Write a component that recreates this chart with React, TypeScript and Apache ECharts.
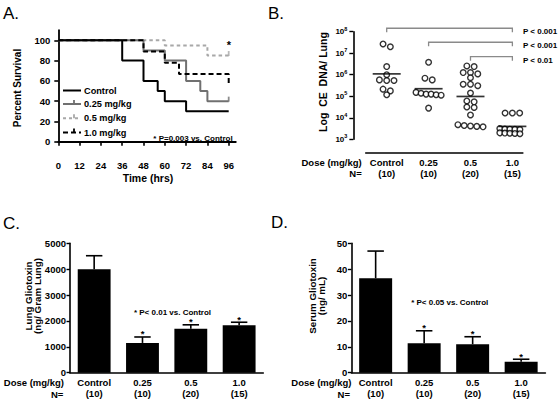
import React, { useEffect, useRef } from 'react';
import * as echarts from 'echarts';

const FONT = '"Liberation Sans", Arial, Helvetica, sans-serif';

// ---------- Panel A: survival ----------
const survivalXTicks = [0, 12, 24, 36, 48, 60, 72, 84, 96];
const survivalYTicks = [0, 20, 40, 60, 80, 100];
const survivalNames = ['Control', '0.25 mg/kg', '0.5 mg/kg', '1.0 mg/kg'];
const controlSurv = [[0, 100], [36, 80], [48, 60], [56, 50], [60, 40], [72, 30], [96, 30]];
const dose025Surv = [[0, 100], [48, 90], [60, 80], [72, 60], [80, 50], [84, 40], [96, 40]];
const dose05Surv = [[0, 100], [60, 95], [84, 85], [96, 85]];
const dose10Surv = [[0, 100], [48, 88.9], [60, 77.8], [68, 66.7], [96, 55.6]];
const censored025 = [[96, 40]];
const censored05 = [[96, 85]];

// ---------- Panel B: lung CE DNA (log10) ----------
const doseCats = ['Control', '0.25', '0.5', '1.0'];
const doseN = ['(10)', '(10)', '(20)', '(15)'];
const logDnaControl = [7.43, 7.3, 6.38, 6.0, 5.76, 5.73, 5.73, 5.33, 5.25, 5.07];
const logDna025 = [6.58, 5.84, 5.76, 5.18, 5.14, 5.1, 5.1, 5.07, 5.05, 4.45];
const logDna05 = [6.41, 6.38, 6.1, 6.1, 6.04, 5.86, 5.56, 5.56, 5.49, 5.15, 4.78, 4.74, 4.5, 4.48, 4.13, 3.68, 3.64, 3.62, 3.6, 3.58];
const logDna10 = [4.22, 4.22, 4.22, 3.5, 3.48, 3.47, 3.46, 3.45, 3.44, 3.3, 3.29, 3.28, 3.27, 3.26, 3.25];
const logDnaMean = [6.04, 5.35, 4.99, 3.6];
const bracketFrom = [1, 2, 3];
const bracketTo = [4, 4, 4];
const bracketLevel = [8.16, 7.51, 6.84];
const bracketText = ['P < 0.001', 'P < 0.001', 'P < 0.01'];

// ---------- Panel C: lung gliotoxin ----------
const lungMean = [4000, 1150, 1700, 1830];
const lungSem = [520, 230, 150, 120];

// ---------- Panel D: serum gliotoxin ----------
const serumMean = [36.5, 11.4, 11.0, 4.25];
const serumSem = [10.5, 4.8, 2.9, 0.95];
const sigMarks = ['', '*', '*', '*'];

// simple row-based beeswarm (in data units)
function swarm(values: number[], cat: number): number[][] {
  const sorted = [...values].sort((a, b) => b - a);
  const rows: number[][] = [];
  let cur: number[] = [];
  for (const v of sorted) {
    if (cur.length && cur[0] - v > 0.15) {
      rows.push(cur);
      cur = [];
    }
    cur.push(v);
  }
  if (cur.length) rows.push(cur);
  const pts: number[][] = [];
  rows.forEach((row) => {
    const n = row.length;
    const span = Math.min((n - 1) * 0.174, 0.6);
    const step = n > 1 ? span / (n - 1) : 0;
    row.forEach((v, i) => pts.push([cat + (i - (n - 1) / 2) * step, v]));
  });
  return pts;
}

function txt(text: string, x: number, y: number, size: number, o: any = {}) {
  const align = o.align || 'center';
  return {
    type: 'text',
    x,
    y,
    rotation: o.rotation || 0,
    silent: true,
    z: 100,
    style: {
      text,
      fill: '#000',
      fontSize: size,
      fontWeight: o.weight || 'bold',
      fontFamily: FONT,
      align,
      textAlign: align,
      verticalAlign: 'middle',
      textVerticalAlign: 'middle',
      lineHeight: o.lineHeight,
    },
  };
}

const tickLabel = { fontSize: 9.5, fontWeight: 'bold', color: '#000', fontFamily: FONT };
const axisLineStyle = (w: number) => ({ show: true, lineStyle: { color: '#000', width: w } });

function errorBarSeries(means: number[], sems: number[], idx: number) {
  return {
    type: 'custom',
    xAxisIndex: idx,
    yAxisIndex: idx,
    clip: false,
    z: 5,
    data: means.map((m, i) => [i, m, sems[i]]),
    encode: { x: 0, y: 1 },
    renderItem: (params: any, api: any) => {
      const i = api.value(0);
      const m = api.value(1);
      const e = api.value(2);
      const base = api.coord([i, m]);
      const top = api.coord([i, m + e]);
      const bw = api.size([1, 0])[0] * 0.68;
      const hw = bw / 4;
      const children: any[] = [
        { type: 'line', shape: { x1: top[0], y1: base[1], x2: top[0], y2: top[1] }, style: { stroke: '#000', lineWidth: 1.6 } },
        { type: 'line', shape: { x1: top[0] - hw, y1: top[1], x2: top[0] + hw, y2: top[1] }, style: { stroke: '#000', lineWidth: 1.6 } },
      ];
      const mark = sigMarks[params.dataIndex];
      if (mark) {
        children.push({
          type: 'text',
          x: top[0],
          y: top[1] - 3,
          style: { text: mark, fill: '#000', fontSize: 9.5, fontWeight: 'bold', fontFamily: FONT, align: 'center', verticalAlign: 'middle' },
        });
      }
      return { type: 'group', children };
    },
  };
}

function buildOption(): any {
  const catLabels = doseCats.map((c, i) => c + '\n' + doseN[i]);
  const dots = [
    ...swarm(logDnaControl, 1),
    ...swarm(logDna025, 2),
    ...swarm(logDna05, 3),
    ...swarm(logDna10, 4),
  ];

  const legendY = [90.5, 104, 118.3, 132.5];
  const legendStyles = [
    { stroke: '#000', dash: null, tick: false },
    { stroke: '#707070', dash: null, tick: true },
    { stroke: '#a8a8a8', dash: [3, 3], tick: true },
    { stroke: '#000', dash: [5, 3], tick: true },
  ];
  const legendGraphics: any[] = [];
  survivalNames.forEach((name, i) => {
    const s = legendStyles[i];
    const y = legendY[i];
    legendGraphics.push({
      type: 'line',
      silent: true,
      shape: { x1: 63, y1: y, x2: 81, y2: y },
      style: { stroke: s.stroke, lineWidth: 2, lineDash: s.dash || undefined },
    });
    if (s.tick) {
      legendGraphics.push({
        type: 'line',
        silent: true,
        shape: { x1: 74, y1: y - 4, x2: 74, y2: y },
        style: { stroke: s.stroke, lineWidth: 1.8 },
      });
    }
    legendGraphics.push(txt(name, 84, y, 9.2, { align: 'left' }));
  });

  const kmLine = (name: string, data: number[][], color: string, dash: any, z: number) => ({
    type: 'line',
    name,
    xAxisIndex: 0,
    yAxisIndex: 0,
    step: 'end',
    symbol: 'none',
    data,
    z,
    lineStyle: { color, width: 2, type: dash },
    itemStyle: { color },
  });
  const censorSeries = (data: number[][], color: string) => ({
    type: 'scatter',
    xAxisIndex: 0,
    yAxisIndex: 0,
    data,
    symbol: 'rect',
    symbolSize: [1.8, 5],
    symbolOffset: [0, -2],
    itemStyle: { color },
    z: 6,
  });

  return {
    animation: false,
    textStyle: { fontFamily: FONT },
    grid: [
      { left: 58.3, top: 30.2, width: 177.5, height: 111.5 },
      { left: 365.75, top: 31.7, width: 157.1, height: 107.6 },
      { left: 70, top: 243.3, width: 193.3, height: 129.4 },
      { left: 351.4, top: 243.3, width: 194, height: 129.4 },
    ],
    xAxis: [
      {
        type: 'value',
        gridIndex: 0,
        min: 0,
        max: 100,
        offset: 12.5,
        axisLine: axisLineStyle(1.8),
        axisTick: { show: true, customValues: survivalXTicks, length: 4, lineStyle: { color: '#000', width: 1.6 } },
        axisLabel: { ...tickLabel, customValues: survivalXTicks, margin: 6 },
        splitLine: { show: false },
      },
      {
        type: 'value',
        gridIndex: 1,
        min: 0.5,
        max: 4.25,
        offset: 13,
        axisLine: axisLineStyle(1.6),
        axisTick: { show: false },
        axisLabel: {
          ...tickLabel,
          lineHeight: 11.5,
          margin: 4,
          customValues: [1, 2, 3, 4],
          formatter: (v: number) => {
            const i = Math.round(v) - 1;
            return doseCats[i] + '\n' + doseN[i];
          },
        },
        splitLine: { show: false },
      },
      {
        type: 'category',
        gridIndex: 2,
        data: catLabels,
        axisLine: axisLineStyle(1.6),
        axisTick: { show: false },
        axisLabel: { ...tickLabel, lineHeight: 11.5, margin: 4 },
      },
      {
        type: 'category',
        gridIndex: 3,
        data: catLabels,
        axisLine: axisLineStyle(1.6),
        axisTick: { show: false },
        axisLabel: { ...tickLabel, lineHeight: 11.5, margin: 4 },
      },
    ],
    yAxis: [
      {
        type: 'value',
        gridIndex: 0,
        min: 0,
        max: 110,
        offset: 3,
        axisLine: axisLineStyle(1.8),
        axisTick: { show: true, customValues: survivalYTicks, length: 4, lineStyle: { color: '#000', width: 1.6 } },
        axisLabel: { ...tickLabel, customValues: survivalYTicks, margin: 5 },
        splitLine: { show: false },
      },
      {
        type: 'value',
        gridIndex: 1,
        min: 3,
        max: 8,
        interval: 1,
        offset: 12.4,
        axisLine: axisLineStyle(1.6),
        axisTick: { show: true, length: 4, lineStyle: { color: '#000', width: 1.4 } },
        axisLabel: {
          margin: 6,
          formatter: (v: number) => `{b|10}{s|${v}}`,
          rich: {
            b: { fontSize: 8, fontWeight: 'bold', fontFamily: FONT, color: '#000', lineHeight: 12 },
            s: { fontSize: 5.5, fontWeight: 'bold', fontFamily: FONT, color: '#000', lineHeight: 4, verticalAlign: 'top' },
          },
        },
        splitLine: { show: false },
      },
      {
        type: 'value',
        gridIndex: 2,
        min: 0,
        max: 5000,
        interval: 1000,
        axisLine: axisLineStyle(1.6),
        axisTick: { show: true, length: 3.5, lineStyle: { color: '#000', width: 1.4 } },
        axisLabel: { ...tickLabel, margin: 4, formatter: (v: number) => String(v) },
        splitLine: { show: false },
      },
      {
        type: 'value',
        gridIndex: 3,
        min: 0,
        max: 50,
        interval: 10,
        axisLine: axisLineStyle(1.6),
        axisTick: { show: true, length: 3.5, lineStyle: { color: '#000', width: 1.4 } },
        axisLabel: { ...tickLabel, margin: 4, formatter: (v: number) => String(v) },
        splitLine: { show: false },
      },
    ],
    series: [
      kmLine(survivalNames[2], dose05Surv, '#a8a8a8', [3.5, 3], 2),
      kmLine(survivalNames[1], dose025Surv, '#707070', 'solid', 3),
      kmLine(survivalNames[3], dose10Surv, '#000', [5, 3], 4),
      kmLine(survivalNames[0], controlSurv, '#000', 'solid', 5),
      censorSeries(censored025, '#707070'),
      censorSeries(censored05, '#a8a8a8'),
      {
        type: 'scatter',
        xAxisIndex: 1,
        yAxisIndex: 1,
        data: dots,
        symbol: 'circle',
        symbolSize: 5.6,
        itemStyle: { color: '#fff', borderColor: '#000', borderWidth: 1.4 },
        z: 3,
      },
      {
        type: 'scatter',
        xAxisIndex: 1,
        yAxisIndex: 1,
        data: logDnaMean.map((m, i) => [i + 1, m]),
        symbol: 'rect',
        symbolSize: [28, 1.7],
        itemStyle: { color: '#000' },
        z: 4,
      },
      {
        type: 'custom',
        xAxisIndex: 1,
        yAxisIndex: 1,
        clip: false,
        data: bracketLevel.map((lv, i) => [bracketFrom[i], bracketTo[i], lv]),
        encode: { x: [0, 1], y: 2 },
        renderItem: (params: any, api: any) => {
          const a = api.coord([api.value(0), api.value(2)]);
          const b = api.coord([api.value(1), api.value(2)]);
          return {
            type: 'group',
            children: [
              {
                type: 'polyline',
                shape: { points: [[a[0], a[1] + 4], [a[0], a[1]], [b[0], b[1]], [b[0], b[1] + 4]] },
                style: { stroke: '#8a8a8a', lineWidth: 1.3, fill: null },
              },
              {
                type: 'text',
                x: b[0] + 10.5,
                y: b[1] + 3.4,
                style: {
                  text: bracketText[params.dataIndex],
                  fill: '#000',
                  fontSize: 8,
                  fontWeight: 'bold',
                  fontFamily: FONT,
                  align: 'left',
                  verticalAlign: 'middle',
                },
              },
            ],
          };
        },
      },
      {
        type: 'bar',
        xAxisIndex: 2,
        yAxisIndex: 2,
        data: lungMean,
        barWidth: '68%',
        itemStyle: { color: '#000' },
        z: 2,
      },
      errorBarSeries(lungMean, lungSem, 2),
      {
        type: 'bar',
        xAxisIndex: 3,
        yAxisIndex: 3,
        data: serumMean,
        barWidth: '68%',
        itemStyle: { color: '#000' },
        z: 2,
      },
      errorBarSeries(serumMean, serumSem, 3),
    ],
    graphic: [
      txt('A.', 3, 13, 17, { align: 'left', weight: 'normal' }),
      txt('B.', 268, 13, 17, { align: 'left', weight: 'normal' }),
      txt('C.', 3, 223, 17, { align: 'left', weight: 'normal' }),
      txt('D.', 271, 222, 17, { align: 'left', weight: 'normal' }),
      // Panel A
      txt('Percent Survival', 17, 88, 10, { rotation: Math.PI / 2 }),
      txt('Time (hrs)', 148, 178, 10.5),
      txt('*', 229, 44.5, 11),
      txt('* P=0.003 vs. Control', 193, 138.3, 8),
      ...legendGraphics,
      // Panel B
      txt('Log  CE  DNA/ Lung', 322.7, 82, 10.5, { rotation: Math.PI / 2 }),
      txt('Dose (mg/kg)', 361.7, 162.3, 9.5, { align: 'right' }),
      txt('N=', 361.7, 173.8, 9.5, { align: 'right' }),
      // Panel C
      txt('Lung Gliotoxin\n(ng/ Gram Lung)', 33, 296, 9.8, { rotation: Math.PI / 2, lineHeight: 9.5 }),
      txt('* P< 0.01 vs. Control', 172.5, 312.3, 8),
      txt('Dose (mg/kg)', 64, 382.5, 9.5, { align: 'right' }),
      txt('N=', 63.3, 394.3, 9.5, { align: 'right' }),
      // Panel D
      txt('Serum Gliotoxin\n(ng/ mL)', 317, 296, 9.8, { rotation: Math.PI / 2, lineHeight: 9.5 }),
      txt('* P< 0.05 vs. Control', 449.7, 302.7, 8),
      txt('Dose (mg/kg)', 351.5, 382.7, 9.5, { align: 'right' }),
      txt('N=', 350, 394.3, 9.5, { align: 'right' }),
    ],
  };
}

export default function App() {
  const ref = useRef<HTMLDivElement>(null);
  useEffect(() => {
    if (!ref.current) return;
    const chart = echarts.init(ref.current, undefined, { renderer: 'svg' });
    chart.setOption(buildOption());
    return () => chart.dispose();
  }, []);
  return (
    <div
      ref={ref}
      style={{ position: 'absolute', left: 0, top: 0, width: 559, height: 402, background: '#fff' }}
    />
  );
}
